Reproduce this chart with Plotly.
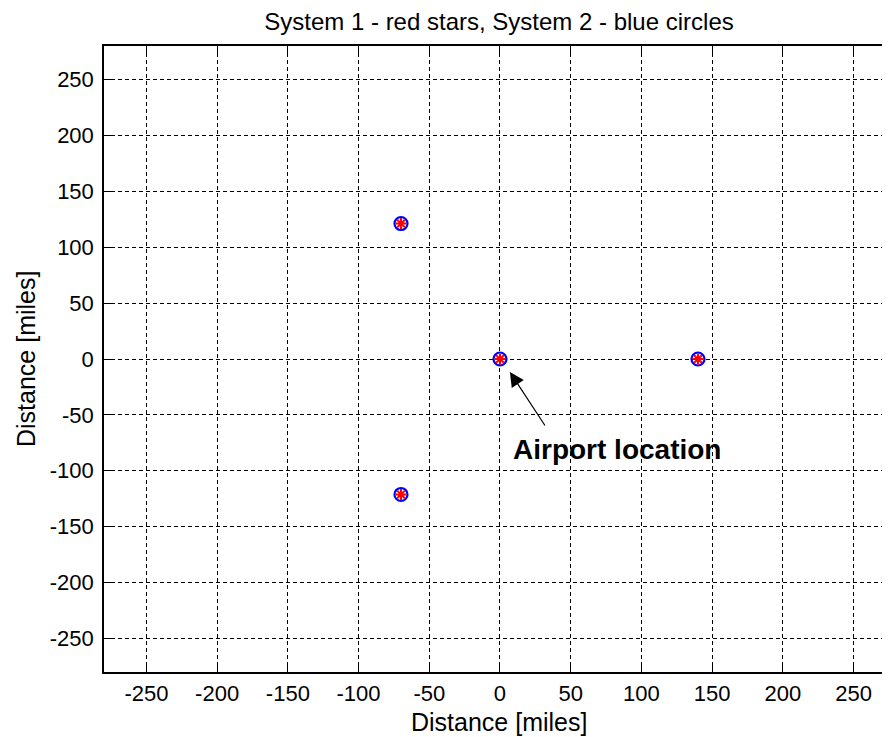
import plotly.graph_objects as go

# Data
sys1_x = [0, 140, -70, -70]          # System 1 - red stars
sys1_y = [0, 0, 121.2, -121.2]
sys2_x = [0, 140, -70, -70]          # System 2 - blue circles
sys2_y = [0, 0, 121.2, -121.2]
tick_vals = [-250, -200, -150, -100, -50, 0, 50, 100, 150, 200, 250]
tick_text = [str(v) for v in tick_vals]
airport_label = "Airport location"
airport_xy = (7.0, -11.6)
arrow_tail = (32.5, -60.8)
label_xy = (8.0, -81.4)

FONT = "Arial, Liberation Sans, sans-serif"

fig = go.Figure()
fig.add_trace(go.Scatter(
    x=sys2_x, y=sys2_y, mode="markers", name="System 2",
    marker=dict(symbol="circle-open", size=13, color="#0000ff",
                line=dict(color="#0000ff", width=2.2)),
    showlegend=False, hoverinfo="skip"))
fig.add_trace(go.Scatter(
    x=sys1_x, y=sys1_y, mode="markers", name="System 1",
    marker=dict(symbol="asterisk-open", size=9, color="#ff0000",
                line=dict(color="#ff0000", width=2)),
    showlegend=False, hoverinfo="skip"))

axis_common = dict(
    tickmode="array", tickvals=tick_vals, ticktext=tick_text,
    showgrid=True, gridcolor="#000000", gridwidth=1, griddash="4px,3px",
    zeroline=False, showline=True, linecolor="#000000", linewidth=1.5,
    ticks="inside", ticklen=7, tickcolor="#000000", tickwidth=1,
    tickfont=dict(family=FONT, size=22, color="#000000"),
    fixedrange=True,
)

fig.update_xaxes(range=[-280, 278.6], mirror="ticks", ticklabelstandoff=1,
                 **axis_common)
fig.update_yaxes(range=[-280, 280], mirror=False, ticklabelstandoff=4,
                 **axis_common)

fig.add_annotation(x=airport_xy[0], y=airport_xy[1], ax=arrow_tail[0], ay=arrow_tail[1],
                   xref="x", yref="y", axref="x", ayref="y", text="",
                   showarrow=True, arrowhead=2, arrowsize=2.4, arrowwidth=1.2,
                   arrowcolor="#000000", standoff=0, startstandoff=0)
fig.add_annotation(x=label_xy[0], y=label_xy[1], xref="x", yref="y",
                   text="<b>" + airport_label + "</b>", showarrow=False,
                   xanchor="left", yanchor="middle",
                   font=dict(family=FONT, size=28, color="#000000"))

# Axis titles
fig.add_annotation(x=-0.0987, y=0.5, xref="paper", yref="paper",
                   text="Distance [miles]", textangle=-90, showarrow=False,
                   xanchor="center", yanchor="middle",
                   font=dict(family=FONT, size=25, color="#000000"))
fig.add_annotation(x=0.5, y=-0.0799, xref="paper", yref="paper",
                   text="Distance [miles]", showarrow=False,
                   xanchor="center", yanchor="middle",
                   font=dict(family=FONT, size=25, color="#000000"))

fig.update_layout(
    width=890, height=737,
    margin=dict(l=96, r=4, t=38, b=73),
    paper_bgcolor="#ffffff", plot_bgcolor="#ffffff",
    title=dict(text="System 1 - red stars, System 2 - blue circles",
               x=0.5, xref="paper", y=1 - 14 / 737, yref="container",
               xanchor="center", yanchor="middle",
               font=dict(family=FONT, size=24, color="#000000")),
    showlegend=False,
)

fig.write_html("out.html")
